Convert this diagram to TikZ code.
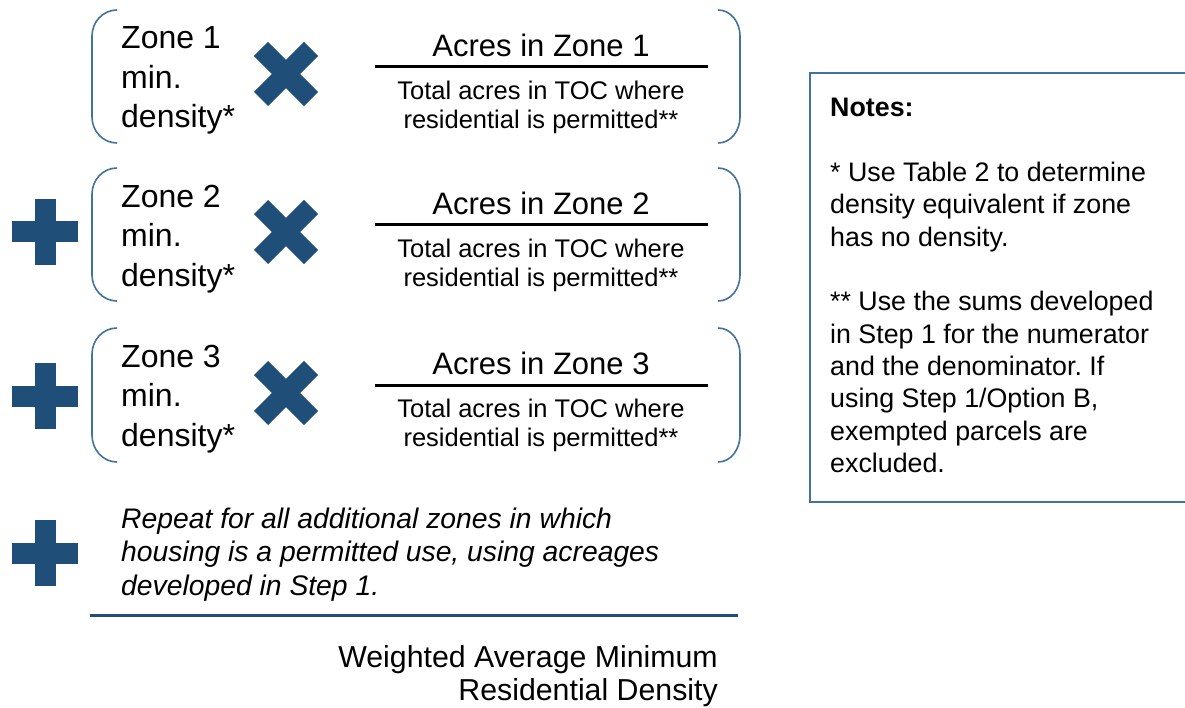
\documentclass[tikz,border=0pt]{standalone}
\usepackage{fontspec}
\setmainfont{Liberation Sans}
\usepackage{tikz}
\definecolor{signblue}{HTML}{1F4E79}
\definecolor{edgeblue}{HTML}{41719C}
\frenchspacing

\begin{document}
\begin{tikzpicture}[x=1pt,y=-1pt,
  zonetext/.style={anchor=north west,inner sep=0pt,align=left,font=\fontsize{32}{39.5}\selectfont},
  numtext/.style={inner sep=0pt,font=\fontsize{31}{37}\selectfont},
  dentext/.style={anchor=north,inner sep=0pt,align=center,font=\fontsize{25.5}{29.5}\selectfont},
  repeattext/.style={anchor=north west,inner sep=0pt,align=left,font=\fontsize{28.3}{33.5}\selectfont\itshape},
  resulttext/.style={anchor=north east,inner sep=0pt,align=right,font=\fontsize{30.3}{33}\selectfont},
  notetext/.style={anchor=north west,inner sep=0pt,align=left,font=\fontsize{26.8}{32.4}\selectfont},
  fracbar/.style={line width=3pt},
  bracket/.style={edgeblue,line width=1.6pt},
  timesbar/.style={signblue,line width=20pt},
  plusbar/.style={signblue,line width=21pt},
  notebox/.style={edgeblue,line width=1.5pt},
  sumrule/.style={signblue,line width=3pt}]
\useasboundingbox (0,0) rectangle (1185,708);

% row 1
\draw[bracket] (117,10) to[out=180,in=90] (92,36) -- (92,117) to[out=-90,in=180] (117,143);
\draw[bracket] (718,10) to[out=0,in=90] (740,36) -- (740,117) to[out=-90,in=0] (718,143);
\node[zonetext] (zone1) at (121,26.6) {Zone 1\\min.\\density*};
\coordinate (times1) at (286,74);
\draw[timesbar] ([shift={(-25,-25)}]times1) -- ([shift={(25,25)}]times1);
\draw[timesbar] ([shift={(-25,25)}]times1) -- ([shift={(25,-25)}]times1);
\node[numtext] (acres1) at (541,45) {Acres in Zone 1};
\draw[fracbar] (375,67) -- (708,67);
\node[dentext] (total1) at (541,80.5) {Total acres in TOC where\\residential is permitted**};

% row 2
\coordinate (plus2) at (45,232);
\draw[plusbar] ([yshift=33pt]plus2) -- ([yshift=-33pt]plus2);
\draw[plusbar] ([xshift=-33pt]plus2) -- ([xshift=33pt]plus2);
\draw[bracket] (117,168) to[out=180,in=90] (92,194) -- (92,275) to[out=-90,in=180] (117,301);
\draw[bracket] (718,168) to[out=0,in=90] (740,194) -- (740,275) to[out=-90,in=0] (718,301);
\node[zonetext] (zone2) at (121,184.6) {Zone 2\\min.\\density*};
\coordinate (times2) at (286,232);
\draw[timesbar] ([shift={(-25,-25)}]times2) -- ([shift={(25,25)}]times2);
\draw[timesbar] ([shift={(-25,25)}]times2) -- ([shift={(25,-25)}]times2);
\node[numtext] (acres2) at (541,203) {Acres in Zone 2};
\draw[fracbar] (375,225) -- (708,225);
\node[dentext] (total2) at (541,238.5) {Total acres in TOC where\\residential is permitted**};

% row 3
\coordinate (plus3) at (45,396);
\draw[plusbar] ([yshift=33pt]plus3) -- ([yshift=-33pt]plus3);
\draw[plusbar] ([xshift=-33pt]plus3) -- ([xshift=33pt]plus3);
\draw[bracket] (117,328) to[out=180,in=90] (92,354) -- (92,435) to[out=-90,in=180] (117,462);
\draw[bracket] (718,328) to[out=0,in=90] (740,354) -- (740,435) to[out=-90,in=0] (718,462);
\node[zonetext] (zone3) at (121,344.6) {Zone 3\\min.\\density*};
\coordinate (times3) at (286,393);
\draw[timesbar] ([shift={(-25,-25)}]times3) -- ([shift={(25,25)}]times3);
\draw[timesbar] ([shift={(-25,25)}]times3) -- ([shift={(25,-25)}]times3);
\node[numtext] (acres3) at (541,363) {Acres in Zone 3};
\draw[fracbar] (375,385) -- (708,385);
\node[dentext] (total3) at (541,398.5) {Total acres in TOC where\\residential is permitted**};

% remaining zones
\coordinate (plus4) at (45,553);
\draw[plusbar] ([yshift=33pt]plus4) -- ([yshift=-33pt]plus4);
\draw[plusbar] ([xshift=-33pt]plus4) -- ([xshift=33pt]plus4);
\node[repeattext] (repeat) at (121,507.4) {Repeat for all additional zones in which\\housing is a permitted use, using acreages\\developed in Step 1.};
\draw[sumrule] (90,615) -- (738,615);
\node[resulttext] (result) at (718,645.7) {Weighted Average Minimum\\Residential Density};

% notes
\draw[notebox] (810,73) rectangle (1200,502);
\node[notetext] (notes) at (830,97.5) {\textbf{Notes:}\\[33pt]* Use Table 2 to determine\\density equivalent if zone\\has no density.\\[32pt]** Use the sums developed\\in Step 1 for the numerator\\and the denominator. If\\using Step 1/Option B,\\exempted parcels are\\excluded.};
\end{tikzpicture}
\end{document}
